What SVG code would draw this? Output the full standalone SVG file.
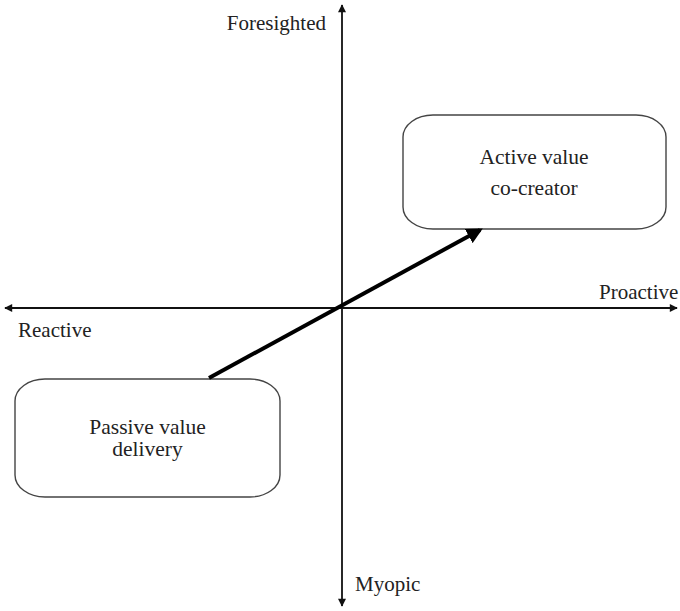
<svg xmlns="http://www.w3.org/2000/svg" width="680" height="611" viewBox="0 0 680 611">
  <style>
    .lbl { font-family: "Liberation Serif", "Times New Roman", "DejaVu Serif", serif; font-size: 21px; fill: #222; }
    .node-lbl { font-size: 21.5px; }
    .box { fill: #fff; stroke: #444; stroke-width: 1.4; }
    .axis { stroke: #111; stroke-width: 1.8; fill: none; }
    .path { stroke: #000; stroke-width: 4; fill: none; }
  </style>
  <defs>
    <marker id="ah" viewBox="0 0 10 10" refX="9" refY="5" markerWidth="9" markerHeight="8" markerUnits="userSpaceOnUse" orient="auto">
      <path d="M0,0 L10,5 L0,10 Z" fill="#111"/>
    </marker>
    <marker id="ahBig" viewBox="0 0 10 10" refX="8" refY="5" markerWidth="4" markerHeight="4" orient="auto">
      <path d="M0,0 L10,5 L0,10 Z" fill="#000"/>
    </marker>
  </defs>

  <g id="connectors">
    <line id="axis-up" class="axis" x1="342" y1="308" x2="342" y2="5" marker-end="url(#ah)"/>
    <line id="axis-down" class="axis" x1="342" y1="308" x2="342" y2="606" marker-end="url(#ah)"/>
    <line id="axis-right" class="axis" x1="342" y1="308" x2="677" y2="308" marker-end="url(#ah)"/>
    <line id="axis-left" class="axis" x1="342" y1="308" x2="5" y2="308" marker-end="url(#ah)"/>
  </g>

  <g id="node-active">
    <rect class="box" x="403" y="115" width="263" height="114" rx="30" ry="22"/>
    <text class="lbl node-lbl" x="534" y="164" text-anchor="middle">Active value</text>
    <text class="lbl node-lbl" x="534" y="195" text-anchor="middle">co-creator</text>
  </g>

  <g id="node-passive">
    <rect class="box" x="15" y="379" width="265" height="118" rx="30" ry="22"/>
    <text class="lbl node-lbl" x="147.5" y="434" text-anchor="middle">Passive value</text>
    <text class="lbl node-lbl" x="147.5" y="456" text-anchor="middle">delivery</text>
  </g>

  <g id="transition">
    <line class="path" x1="209" y1="378" x2="480" y2="230" marker-end="url(#ahBig)"/>
  </g>

  <g id="axis-labels">
    <text class="lbl" x="326" y="30" text-anchor="end">Foresighted</text>
    <text class="lbl" x="18" y="337">Reactive</text>
    <text class="lbl" x="599" y="299">Proactive</text>
    <text class="lbl" x="355" y="591">Myopic</text>
  </g>
</svg>
